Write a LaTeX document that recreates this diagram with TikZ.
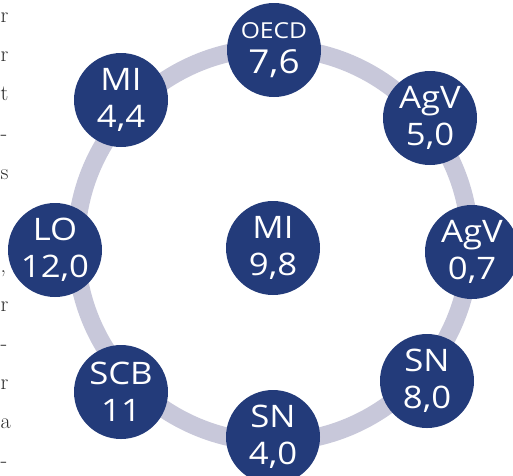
\documentclass[tikz,border=0pt]{standalone}
\usepackage{fontspec}
\newfontfamily\labelfont[FakeStretch=1.12]{Open Sans}
\definecolor{navy}{HTML}{233B7A}
\definecolor{ringgrey}{HTML}{C8C8DA}
\definecolor{bodytext}{HTML}{2A2A2A}
\tikzset{
  ringline/.style={draw=ringgrey, line width=18pt},
  bubble/.style={circle, fill=navy, minimum size=94pt, inner sep=0pt, text=white,
    align=center, font=\labelfont\fontsize{31}{37}\selectfont},
  frag/.style={anchor=base west, inner sep=0pt, text=bodytext, font=\fontsize{22}{26}\selectfont}
}
\begin{document}
\begin{tikzpicture}[x=1pt,y=-1pt]
\useasboundingbox (0,0) rectangle (513,475);
\clip (0,0) rectangle (513,475);
% left column text fragments
\node[frag] (f1) at (0.5,22) {r};
\node[frag] (f2) at (0.5,61) {r};
\node[frag] (f3) at (0.5,100) {t};
\node[frag] (f4) at (0.5,140) {-};
\node[frag] (f5) at (0.5,179) {s};
\node[frag] (f6) at (0.5,272) {,};
\node[frag] (f7) at (0.5,311) {r};
\node[frag] (f8) at (0.5,350) {-};
\node[frag] (f9) at (0.5,389) {r};
\node[frag] (f10) at (0.5,428) {a};
\node[frag] (f11) at (0.5,467) {-};
% ring
\coordinate (ringc) at (273,245);
\draw[ringline] (ringc) circle[radius=197pt];
% bubbles
\node[bubble] (oecd) at (274,50) {{\fontsize{22}{25}\selectfont OECD}\\[-2pt]{\fontsize{33}{35}\selectfont 7,6}};
\node[bubble] (mi1) at (121,100) {MI\\4,4};
\node[bubble] (agv1) at (430,118) {AgV\\5,0};
\node[bubble] (lo) at (55,250) {LO\\12,0};
\node[bubble] (mi2) at (273,248) {MI\\9,8};
\node[bubble] (agv2) at (472,252) {AgV\\0,7};
\node[bubble] (sn1) at (427,381) {SN\\8,0};
\node[bubble] (scb) at (121,392) {SCB\\11};
\node[bubble] (sn2) at (273,437) {SN\\4,0};
\end{tikzpicture}
\end{document}
